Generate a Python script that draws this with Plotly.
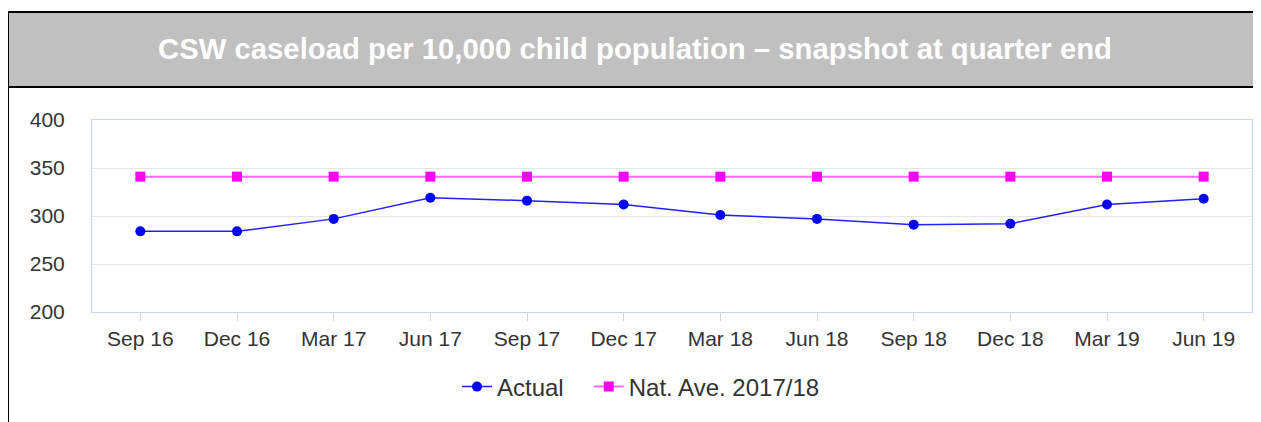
import plotly.graph_objects as go

quarters = ["Sep 16", "Dec 16", "Mar 17", "Jun 17", "Sep 17", "Dec 17",
            "Mar 18", "Jun 18", "Sep 18", "Dec 18", "Mar 19", "Jun 19"]
actual = [284, 284, 297, 319, 316, 312, 301, 297, 291, 292, 312, 318]
nat_ave = [341] * len(quarters)

title_text = "CSW caseload per 10,000 child population \u2013 snapshot at quarter end"

# the page puts the figure 8px in from the top-left corner
OFF = 8
W, H = 1261 - OFF, 422 - OFF
L, R, T, B = 92 - OFF, 9, 120 - OFF, 110
pw, ph = W - L - R, H - T - B


def px_x(x):
    return (x - OFF - L) / pw


def px_y(y):
    return (H - B - (y - OFF)) / ph


FONT = "Liberation Sans, Arial"
NBSP = "\u00a0"

fig = go.Figure()
fig.add_trace(go.Scatter(
    x=quarters, y=actual, name="Actual" + NBSP * 3, mode="lines+markers",
    line=dict(color="#2020ff", width=1.5),
    marker=dict(color="#0000ff", size=10, symbol="circle"),
))
fig.add_trace(go.Scatter(
    x=quarters, y=nat_ave, name="Nat. Ave. 2017/18", mode="lines+markers",
    line=dict(color="#ff66ff", width=2),
    marker=dict(color="#ff00ff", size=10, symbol="square"),
))

# header band and frame
fig.add_shape(type="rect", xref="paper", yref="paper",
              x0=px_x(8), x1=px_x(1275), y0=px_y(87), y1=px_y(12),
              fillcolor="#c0c0c0", line=dict(color="black", width=2), layer="below")
fig.add_shape(type="line", xref="paper", yref="paper",
              x0=px_x(8), x1=px_x(8), y0=px_y(87), y1=px_y(440),
              line=dict(color="black", width=2))
fig.add_annotation(text="<b>" + title_text + "</b>", xref="paper", yref="paper",
                   x=px_x(635), y=px_y(49), showarrow=False,
                   xanchor="center", yanchor="middle",
                   font=dict(family=FONT, size=29.3, color="white"))

fig.update_xaxes(
    type="category", range=[-0.5, 11.5],
    showline=True, linecolor="#ccd6eb", linewidth=1, mirror=True,
    ticks="outside", ticklen=8, tickcolor="#ccd6eb",
    showgrid=False, zeroline=False,
    tickfont=dict(family=FONT, size=21, color="#333333"),
)
fig.update_yaxes(
    range=[200, 400], dtick=50,
    showline=True, linecolor="#ccd6eb", linewidth=1, mirror=True,
    gridcolor="#e6e6e6", zeroline=False, ticks="", ticklabelstandoff=22,
    tickfont=dict(family=FONT, size=21, color="#333333"),
)
fig.update_layout(
    width=W, height=H,
    margin=dict(l=L, r=R, t=T, b=B),
    paper_bgcolor="white", plot_bgcolor="white",
    showlegend=True,
    legend=dict(orientation="h", x=px_x(641), xanchor="center", y=px_y(387), yanchor="middle",
                font=dict(family=FONT, size=24, color="#333333"),
                itemwidth=30),
)

fig.write_html("out.html")
